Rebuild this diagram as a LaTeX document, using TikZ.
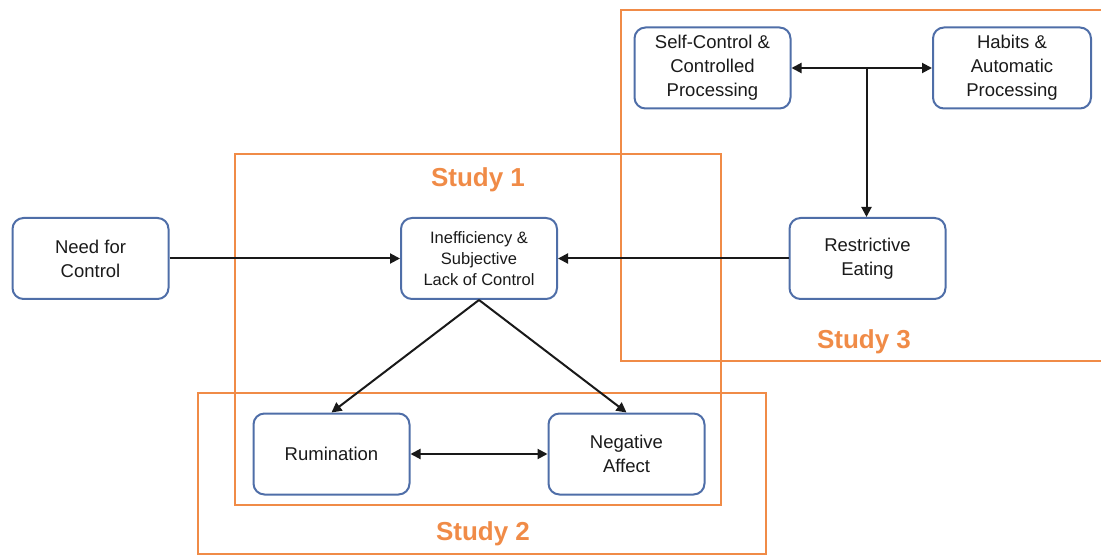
\documentclass[tikz,border=0pt]{standalone}
\usepackage{fontspec}
\setmainfont{Liberation Sans}
\usetikzlibrary{arrows.meta}
\definecolor{frameorange}{HTML}{F08B47}
\definecolor{boxblue}{HTML}{4F6EA8}
\definecolor{textgrey}{HTML}{1A1A1A}
\begin{document}
\begin{tikzpicture}[x=1pt,y=-1pt,
  concept/.style={draw=boxblue, line width=2pt, rounded corners=11pt,
    minimum width=156pt, minimum height=81pt, align=center, inner sep=0pt,
    text=textgrey, font=\fontsize{18.5}{24}\selectfont},
  smallconcept/.style={concept, font=\fontsize{16.5}{21}\selectfont},
  studyframe/.style={draw=frameorange, line width=2pt},
  studylabel/.style={text=frameorange, font=\fontsize{26}{30}\selectfont\bfseries},
  link/.style={draw=black!90, line width=2pt, -{Triangle[length=10pt,width=10pt]}},
  twoway/.style={link, {Triangle[length=10pt,width=10pt]}-{Triangle[length=10pt,width=10pt]}}
]
\clip (0,0) rectangle (1101,556);
\useasboundingbox (0,0) rectangle (1101,556);

% study frames
\draw[studyframe] (621,10) rectangle (1120,361);
\draw[studyframe] (235,154) rectangle (721,505);
\draw[studyframe] (198,393) rectangle (766,554);

\node[studylabel] (s1) at (478,180) {Study 1};
\node[studylabel] (s2) at (483,534) {Study 2};
\node[studylabel] (s3) at (864,342) {Study 3};

% concepts
\node[concept] (need) at (90.5,258.5) {Need for\\Control};
\node[smallconcept] (ineff) at (479,258.5) {Inefficiency \&\\Subjective\\Lack of Control};
\node[concept] (restr) at (867.5,258.5) {Restrictive\\Eating};
\node[concept] (self) at (712.5,68) {Self-Control \&\\Controlled\\Processing};
\node[concept, minimum width=158pt] (habit) at (1012,68) {Habits \&\\Automatic\\Processing};
\node[concept] (rum) at (331.5,454) {Rumination};
\node[concept] (neg) at (626.5,454) {Negative\\Affect};

% connectors
\coordinate (fork) at (866.5,68);
\draw[link] (need) -- (ineff);
\draw[link] (restr) -- (ineff);
\draw[twoway] (self) -- (habit);
\draw[link] (fork) -- (restr.north -| fork);
\draw[link] (ineff.south) -- (rum.north);
\draw[link] (ineff.south) -- (neg.north);
\draw[twoway] (rum) -- (neg);
\end{tikzpicture}
\end{document}
